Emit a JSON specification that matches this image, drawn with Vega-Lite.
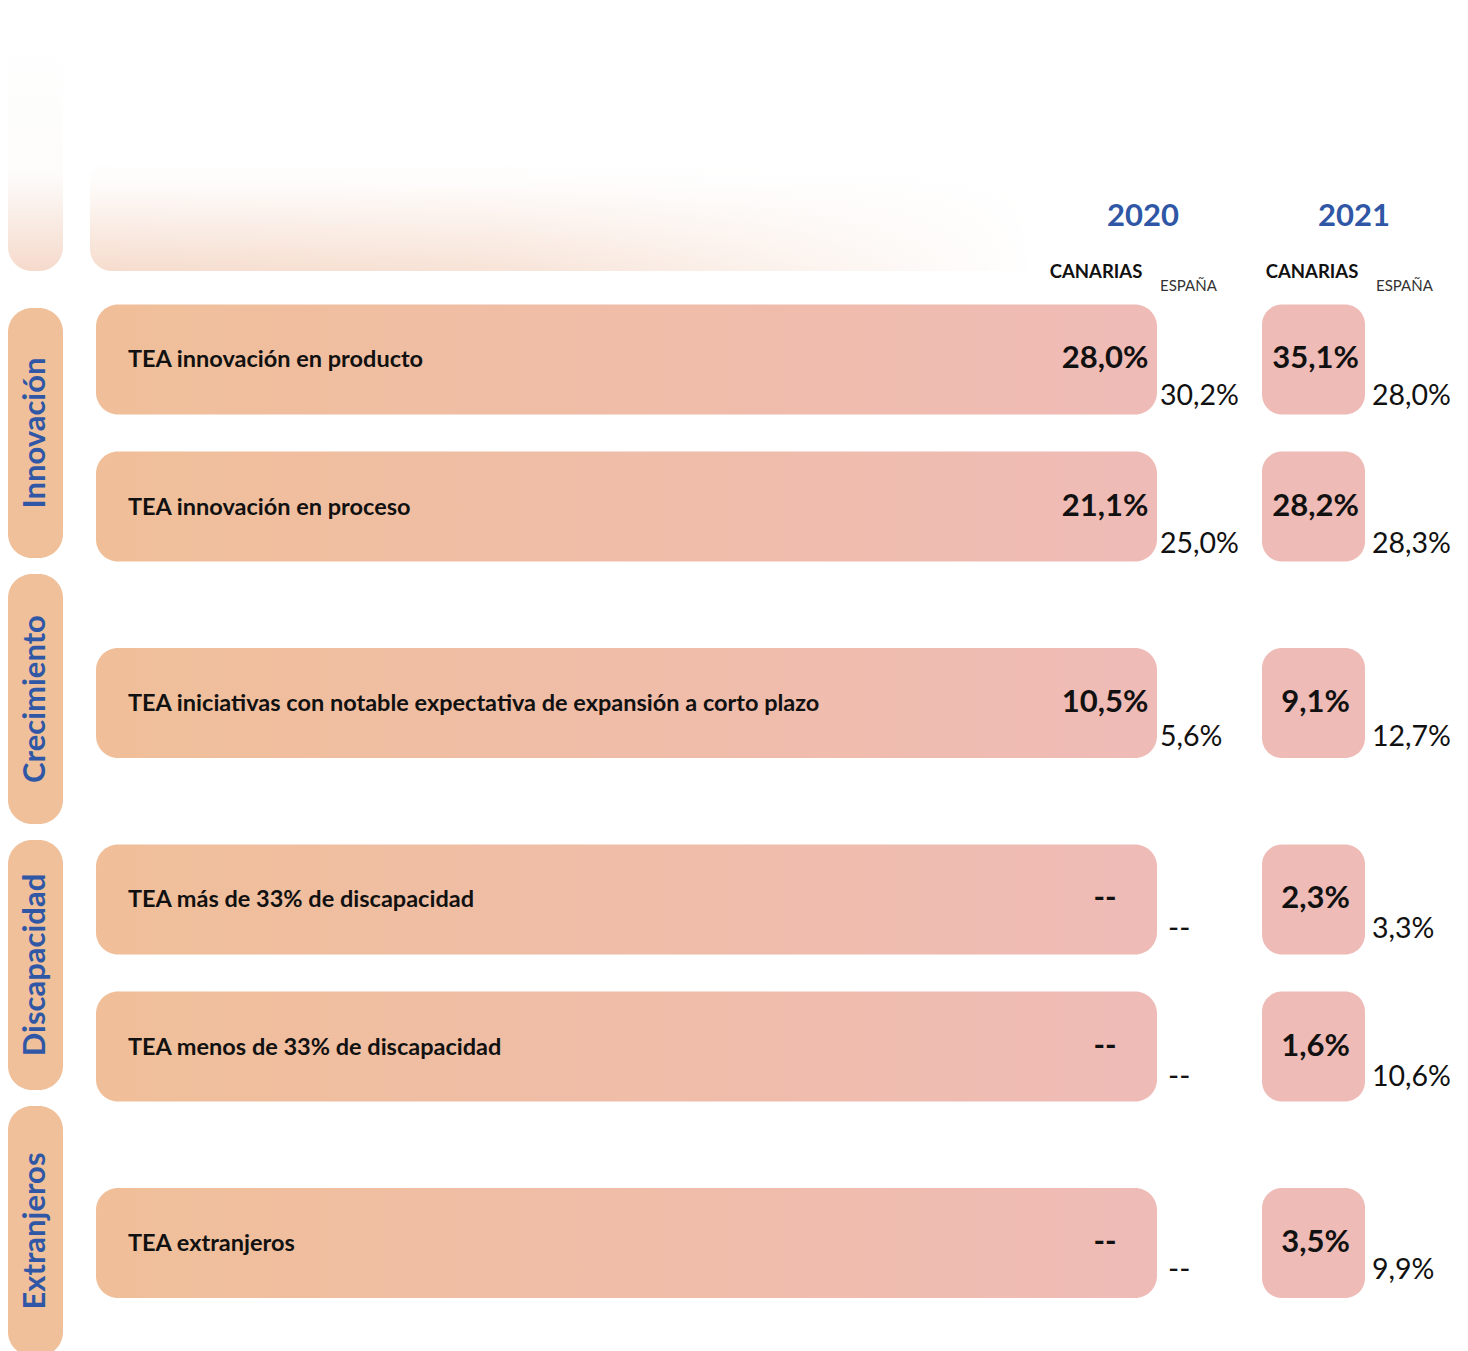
{
  "$schema": "https://vega.github.io/schema/vega-lite/v6.json",
  "padding": {"left": 8, "top": 0, "right": 0, "bottom": 0},
  "autosize": {"type": "pad"},
  "spacing": 4,
  "config": {
    "view": {"stroke": null},
    "font": "Lato",
    "locale": {"number": {"decimal": ",", "thousands": ".", "grouping": [3], "currency": ["", " €"]}}
  },
  "datasets": {
    "indicadores": [
      {"categoria": "Innovación", "indicador": "TEA innovación en producto", "canarias_2020": 0.280, "espana_2020": 0.302, "canarias_2021": 0.351, "espana_2021": 0.280},
      {"categoria": "Innovación", "indicador": "TEA innovación en proceso", "canarias_2020": 0.211, "espana_2020": 0.250, "canarias_2021": 0.282, "espana_2021": 0.283},
      {"categoria": "Crecimiento", "indicador": "TEA iniciativas con notable expectativa de expansión a corto plazo", "canarias_2020": 0.105, "espana_2020": 0.056, "canarias_2021": 0.091, "espana_2021": 0.127},
      {"categoria": "Discapacidad", "indicador": "TEA más de 33% de discapacidad", "canarias_2020": null, "espana_2020": null, "canarias_2021": 0.023, "espana_2021": 0.033},
      {"categoria": "Discapacidad", "indicador": "TEA menos de 33% de discapacidad", "canarias_2020": null, "espana_2020": null, "canarias_2021": 0.016, "espana_2021": 0.106},
      {"categoria": "Extranjeros", "indicador": "TEA extranjeros", "canarias_2020": null, "espana_2020": null, "canarias_2021": 0.035, "espana_2021": 0.099}
    ],
    "encabezados": [
      {"anio": "2020", "ambito": "CANARIAS"},
      {"anio": "2020", "ambito": "ESPAÑA"},
      {"anio": "2021", "ambito": "CANARIAS"},
      {"anio": "2021", "ambito": "ESPAÑA"}
    ]
  },
  "vconcat": [
    {
      "hconcat": [
        {
          "width": 55, "height": 300,
          "data": {"name": "encabezados"},
          "transform": [{"filter": "datum.anio === '2020' && datum.ambito === 'CANARIAS'"}],
          "mark": {"type": "rect", "y": 25, "y2": 271, "cornerRadius": 24, "color": {"gradient": "linear", "x1": 0, "y1": 0, "x2": 0, "y2": 1, "stops": [{"offset": 0, "color": "#ffffff"}, {"offset": 0.6, "color": "#fdfcfb"}, {"offset": 1, "color": "#f5dacb"}]}},
          "encoding": {}
        },
        {
          "width": 1372, "height": 300,
          "data": {"name": "encabezados"},
          "layer": [
            {
              "transform": [{"filter": "datum.anio === '2020' && datum.ambito === 'CANARIAS'"}],
              "mark": {"type": "rect", "x": -6, "x2": 1000, "y": 160, "y2": 271, "cornerRadius": 22, "color": {"gradient": "linear", "x1": 0, "y1": 0, "x2": 0, "y2": 1, "stops": [{"offset": 0, "color": "#ffffff"}, {"offset": 0.2, "color": "#fefcfb"}, {"offset": 1, "color": "#f6dccd"}]}},
              "encoding": {}
            },
            {
              "transform": [{"filter": "datum.anio === '2020' && datum.ambito === 'CANARIAS'"}],
              "mark": {"type": "rect", "x": -6, "x2": 1002, "y": 155, "y2": 275, "color": {"gradient": "linear", "x1": 0, "y1": 0, "x2": 1, "y2": 0, "stops": [{"offset": 0, "color": "rgba(255,255,255,0)"}, {"offset": 0.4, "color": "rgba(255,255,255,0.2)"}, {"offset": 0.94, "color": "rgba(255,255,255,1)"}, {"offset": 1, "color": "rgba(255,255,255,1)"}]}},
              "encoding": {}
            },
            {
              "transform": [{"filter": "datum.ambito === 'CANARIAS'"}],
              "mark": {"type": "text", "y": 217, "align": "center", "baseline": "middle", "fontSize": 31, "fontWeight": "bold", "color": "#2f57a5"},
              "encoding": {
                "x": {"field": "anio", "type": "nominal", "axis": null, "scale": {"type": "point", "padding": 0, "domain": ["2020", "2021"], "range": [1047, 1258]}},
                "text": {"field": "anio", "type": "nominal"}
              }
            },
            {
              "transform": [{"filter": "datum.ambito === 'CANARIAS'"}],
              "mark": {"type": "text", "y": 272, "align": "center", "baseline": "middle", "fontSize": 18.5, "fontWeight": "bold", "color": "#111111"},
              "encoding": {
                "x": {"field": "anio", "type": "nominal", "axis": null, "scale": {"type": "point", "padding": 0, "domain": ["2020", "2021"], "range": [1000, 1216]}},
                "text": {"field": "ambito", "type": "nominal"}
              }
            },
            {
              "transform": [{"filter": "datum.ambito === 'ESPAÑA'"}],
              "mark": {"type": "text", "y": 286, "align": "left", "baseline": "middle", "fontSize": 15, "color": "#333333"},
              "encoding": {
                "x": {"field": "anio", "type": "nominal", "axis": null, "scale": {"type": "point", "padding": 0, "domain": ["2020", "2021"], "range": [1064, 1280]}},
                "text": {"field": "ambito", "type": "nominal"}
              }
            }
          ],
          "resolve": {"scale": {"x": "independent"}}
        }
      ],
      "spacing": 27
    },
    {
      "hconcat": [
        {
          "data": {"name": "indicadores"},
          "facet": {"row": {"field": "categoria", "type": "nominal", "header": null, "sort": ["Innovación", "Crecimiento", "Discapacidad", "Extranjeros"]}},
          "spacing": {"row": 16},
          "spec": {
            "width": 55, "height": 250,
            "transform": [{"aggregate": [{"op": "count", "as": "n"}], "groupby": ["categoria"]}],
            "layer": [
              {"mark": {"type": "rect", "color": "#f0c09a", "cornerRadius": 24}, "encoding": {}},
              {"mark": {"type": "text", "angle": 270, "align": "center", "baseline": "middle", "fontSize": 31, "fontWeight": "bold", "color": "#2f57a5"}, "encoding": {"text": {"field": "categoria", "type": "nominal"}}}
            ]
          }
        },
        {
          "hconcat": [
            {
              "data": {"name": "indicadores"},
              "facet": {"row": {"field": "categoria", "type": "nominal", "header": null, "sort": ["Innovación", "Crecimiento", "Discapacidad", "Extranjeros"]}},
              "spacing": {"row": 16},
              "resolve": {"scale": {"y": "independent"}},
              "spec": {
                "width": 1061, "height": 250,
                "encoding": {"y": {"field": "indicador", "type": "nominal", "sort": null, "axis": null, "scale": {"type": "point", "padding": 0.35}}},
                "layer": [
                  {"mark": {"type": "bar", "height": 110, "cornerRadius": 22, "color": {"gradient": "linear", "x1": 0, "y1": 0, "x2": 1, "y2": 0, "stops": [{"offset": 0, "color": "#f0bf99"}, {"offset": 1, "color": "#efbbb7"}]}}},
                  {"mark": {"type": "text", "x": 32, "align": "left", "baseline": "middle", "dy": 1, "fontSize": 23.5, "fontWeight": "bold", "color": "#111111"}, "encoding": {"text": {"field": "indicador", "type": "nominal"}}},
                  {"mark": {"type": "text", "x": 1009, "align": "center", "baseline": "middle", "fontSize": 31, "fontWeight": "bold", "color": "#111111"}, "encoding": {"text": {"condition": {"test": "!isValid(datum.canarias_2020)", "value": "--"}, "field": "canarias_2020", "type": "quantitative", "format": ".1%"}}}
                ]
              }
            },
            {
              "data": {"name": "indicadores"},
              "facet": {"row": {"field": "categoria", "type": "nominal", "header": null, "sort": ["Innovación", "Crecimiento", "Discapacidad", "Extranjeros"]}},
              "spacing": {"row": 16},
              "resolve": {"scale": {"y": "independent"}},
              "spec": {
                "width": 105, "height": 250,
                "encoding": {"y": {"field": "indicador", "type": "nominal", "sort": null, "axis": null, "scale": {"type": "point", "padding": 0.35}}},
                "layer": [
                  {
                    "transform": [{"filter": "isValid(datum.espana_2020)"}],
                    "mark": {"type": "text", "x": 3, "align": "left", "baseline": "middle", "dy": 37, "fontSize": 28.5, "color": "#111111"},
                    "encoding": {"text": {"field": "espana_2020", "type": "quantitative", "format": ".1%"}}
                  },
                  {
                    "transform": [{"filter": "!isValid(datum.espana_2020)"}],
                    "mark": {"type": "text", "x": 11, "align": "left", "baseline": "middle", "dy": 37, "fontSize": 30, "color": "#111111"},
                    "encoding": {"text": {"value": "--"}}
                  }
                ]
              }
            },
            {
              "data": {"name": "indicadores"},
              "facet": {"row": {"field": "categoria", "type": "nominal", "header": null, "sort": ["Innovación", "Crecimiento", "Discapacidad", "Extranjeros"]}},
              "spacing": {"row": 16},
              "resolve": {"scale": {"y": "independent"}},
              "spec": {
                "width": 103, "height": 250,
                "encoding": {"y": {"field": "indicador", "type": "nominal", "sort": null, "axis": null, "scale": {"type": "point", "padding": 0.35}}},
                "layer": [
                  {"mark": {"type": "bar", "height": 110, "cornerRadius": 20, "color": "#eebbb6"}},
                  {"mark": {"type": "text", "align": "center", "baseline": "middle", "dx": 2, "fontSize": 31, "fontWeight": "bold", "color": "#111111"}, "encoding": {"text": {"field": "canarias_2021", "type": "quantitative", "format": ".1%"}}}
                ]
              }
            },
            {
              "data": {"name": "indicadores"},
              "facet": {"row": {"field": "categoria", "type": "nominal", "header": null, "sort": ["Innovación", "Crecimiento", "Discapacidad", "Extranjeros"]}},
              "spacing": {"row": 16},
              "resolve": {"scale": {"y": "independent"}},
              "spec": {
                "width": 103, "height": 250,
                "mark": {"type": "text", "x": 7, "align": "left", "baseline": "middle", "dy": 37, "fontSize": 28.5, "color": "#111111"},
                "encoding": {
                  "y": {"field": "indicador", "type": "nominal", "sort": null, "axis": null, "scale": {"type": "point", "padding": 0.35}},
                  "text": {"field": "espana_2021", "type": "quantitative", "format": ".1%"}
                }
              }
            }
          ],
          "spacing": 0
        }
      ],
      "spacing": 33
    }
  ]
}
